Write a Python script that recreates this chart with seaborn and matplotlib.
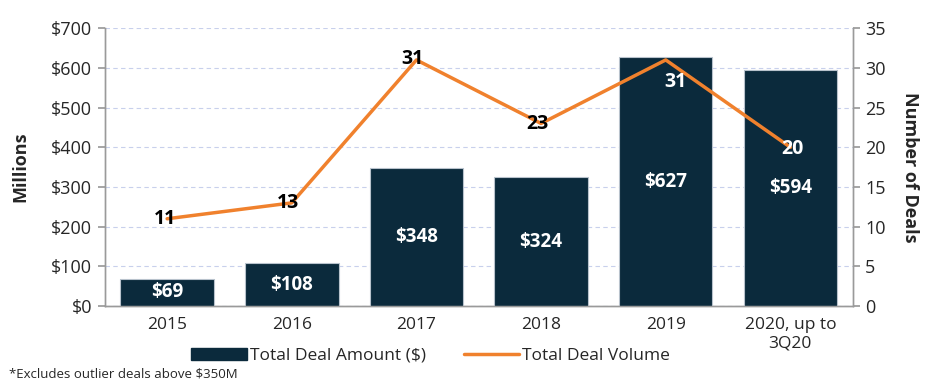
import matplotlib
matplotlib.use("Agg")
import matplotlib.pyplot as plt
import seaborn as sns
import pandas as pd
import numpy as np
from matplotlib.lines import Line2D
from matplotlib.patches import Patch

categories = ["2015", "2016", "2017", "2018", "2019", "2020, up to\n3Q20"]
deal_amount = [69, 108, 348, 324, 627, 594]
deal_volume = [11, 13, 31, 23, 31, 20]
amount_labels = ["$69", "$108", "$348", "$324", "$627", "$594"]

sns.set_theme(style="white")
plt.rcParams['font.family'] = ['Open Sans', 'DejaVu Sans']

bar_color = "#0b2a3c"
line_color = "#f0812d"
grey = "#9a9a9a"

df = pd.DataFrame({"cat": categories, "amount": deal_amount, "volume": deal_volume})

fig = plt.figure(figsize=(9.36, 3.86), dpi=100)
ax = fig.add_axes([0.112, 0.207, 0.799, 0.720])

sns.barplot(data=df, x="cat", y="amount", color=bar_color, width=0.75,
            saturation=1, ax=ax, zorder=3, edgecolor="#b8c2cc", linewidth=0.8)
ax.set_ylim(0, 700)
ax.set_xlim(-0.5, len(categories) - 0.5)
ax.set_yticks(np.arange(0, 701, 100))
ax.set_yticklabels([f"${v}" for v in range(0, 701, 100)], fontsize=13)
ax.yaxis.grid(True, linestyle=(0, (4, 3)), color="#c8d0ec", linewidth=0.8, zorder=0)
ax.set_axisbelow(True)
ax.set_xlabel("")
ax.set_ylabel("Millions", fontsize=13, fontweight="bold", labelpad=16)
ax.set_xticks(range(len(categories)))
ax.set_xticklabels(categories, fontsize=12.5)
ax.tick_params(axis="x", length=0, pad=8)
ax.set_xticks(np.arange(-0.5, len(categories), 1), minor=True)
ax.tick_params(axis="x", which="minor", length=5, color=grey, direction="out")
ax.tick_params(axis="y", length=5, color=grey, direction="out", left=True, pad=4)

for i, (v, lab) in enumerate(zip(deal_amount, amount_labels)):
    ax.text(i, v / 2, lab, ha="center", va="center", color="white",
            fontsize=13.5, fontweight="bold", zorder=5)

ax2 = ax.twinx()
sns.lineplot(x=list(range(len(categories))), y=deal_volume, color=line_color,
             linewidth=2.5, ax=ax2, zorder=4)
ax2.set_ylim(0, 35)
ax2.set_yticks(range(0, 36, 5))
ax2.set_yticklabels([str(v) for v in range(0, 36, 5)], fontsize=13)
ax2.set_ylabel("Number of Deals", fontsize=13, fontweight="bold", rotation=270,
               labelpad=24)
ax2.tick_params(axis="y", length=5, color=grey, direction="out", right=True, pad=4)
ax2.set_xlim(-0.5, len(categories) - 0.5)

label_colors = ["black", "black", "black", "black", "white", "white"]
label_offsets = [(-0.02, 0.0), (-0.03, 0.0), (-0.03, 0.1), (-0.03, -0.1),
                 (0.08, -2.8), (0.02, -0.2)]
for i, v in enumerate(deal_volume):
    dx, dy = label_offsets[i]
    ax2.text(i + dx, v + dy, str(v), ha="center", va="center",
             color=label_colors[i], fontsize=14, fontweight="bold", zorder=6)

for a in (ax, ax2):
    for s in ["left", "right", "bottom"]:
        a.spines[s].set_visible(True)
        a.spines[s].set_color(grey)
        a.spines[s].set_linewidth(1)
    a.spines["top"].set_visible(False)

handles = [Patch(facecolor=bar_color, edgecolor=bar_color),
           Line2D([0], [0], color=line_color, linewidth=2.5)]
fig.legend(handles, ["Total Deal Amount ($)", "Total Deal Volume"],
           loc="center", bbox_to_anchor=(0.46, 0.078), ncol=2, frameon=False,
           fontsize=12.5, handlelength=3.2, handletextpad=0.15, columnspacing=2.2)

fig.text(0.01, 0.03, "*Excludes outlier deals above $350M", fontsize=9.5,
         ha="left", va="center")

fig.savefig("out.png", dpi=100)
